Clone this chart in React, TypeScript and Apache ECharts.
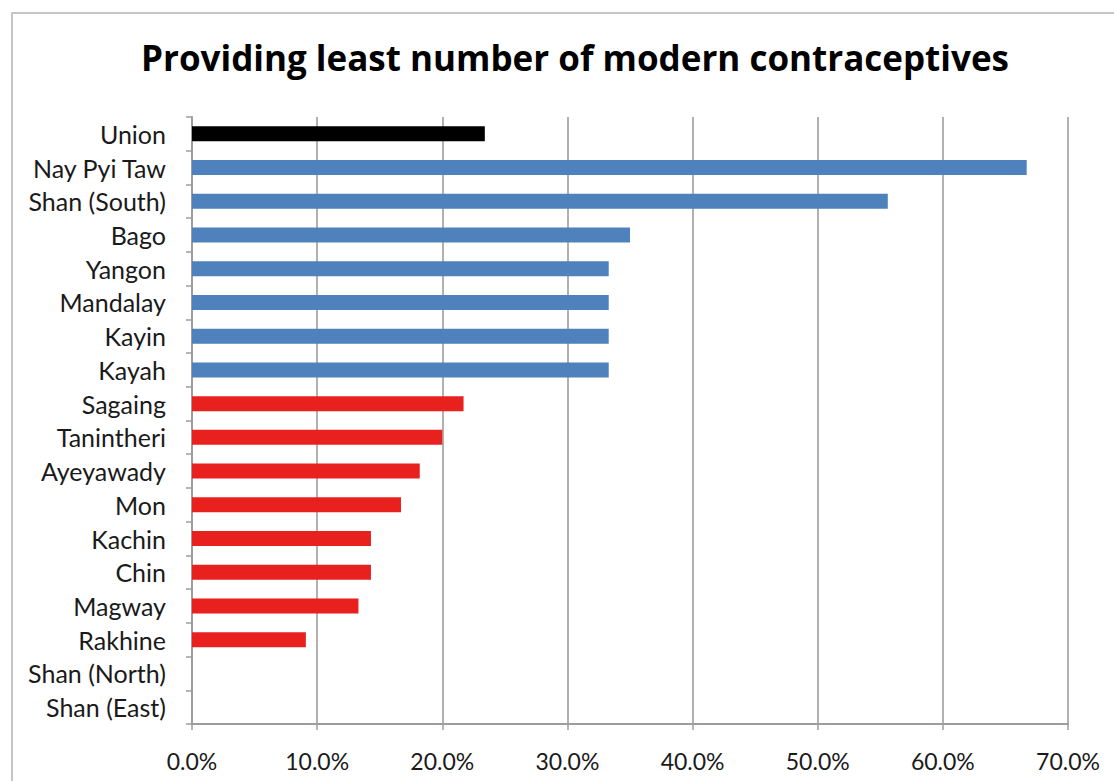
import React, { useEffect, useRef } from "react";
import * as echarts from "echarts";

// Regions, top to bottom
const categories = [
  "Union",
  "Nay Pyi Taw",
  "Shan (South)",
  "Bago",
  "Yangon",
  "Mandalay",
  "Kayin",
  "Kayah",
  "Sagaing",
  "Tanintheri",
  "Ayeyawady",
  "Mon",
  "Kachin",
  "Chin",
  "Magway",
  "Rakhine",
  "Shan (North)",
  "Shan (East)",
];

// Share (%) of facilities providing the least number of modern contraceptives
const values = [
  23.4, 66.7, 55.6, 35.0, 33.3, 33.3, 33.3, 33.3, 21.7, 20.0, 18.2, 16.7, 14.3,
  14.3, 13.3, 9.1, 0, 0,
];

// Group of each region: national figure, above or below the national level
const groups = [
  "national",
  "above",
  "above",
  "above",
  "above",
  "above",
  "above",
  "above",
  "below",
  "below",
  "below",
  "below",
  "below",
  "below",
  "below",
  "below",
  "below",
  "below",
];

const xTicks = { min: 0, max: 70, interval: 10 };

const groupColor: Record<string, string> = {
  national: "#000000",
  above: "#4f81bd",
  below: "#e8211f",
};

const FONT = "Lato, 'Open Sans', sans-serif";
const TITLE_FONT = "'Open Sans', Lato, sans-serif";

export default function App() {
  const ref = useRef<HTMLDivElement>(null);

  useEffect(() => {
    document.body.style.margin = "0";
    const chart = echarts.init(ref.current!, null, { renderer: "svg" });
    chart.setOption({
      animation: false,
      backgroundColor: "#ffffff",
      title: {
        text: "Providing least number of modern contraceptives",
        left: 570,
        textAlign: "center",
        top: 35,
        textStyle: {
          fontFamily: TITLE_FONT,
          fontWeight: "bold",
          fontSize: 35,
          color: "#000000",
        },
      },
      graphic: [
        {
          type: "rect",
          shape: { x: 12, y: 13, width: 1200, height: 900 },
          style: { fill: "none", stroke: "#c9c4c4", lineWidth: 2 },
          silent: true,
        },
      ],
      grid: { left: 192, top: 117, width: 876, height: 607, containLabel: false },
      xAxis: {
        type: "value",
        min: xTicks.min,
        max: xTicks.max,
        interval: xTicks.interval,
        axisLine: { show: true, lineStyle: { color: "#a09c9c", width: 2 } },
        axisTick: { show: true, length: 6, lineStyle: { color: "#a09c9c", width: 1.5 } },
        splitLine: { show: true, lineStyle: { color: "#9a9696", width: 1.5 } },
        axisLabel: {
          formatter: (v: number) => v.toFixed(1) + "%",
          fontFamily: FONT,
          fontSize: 23,
          color: "#1a1a1a",
          margin: 25,
        },
      },
      yAxis: {
        type: "category",
        data: categories,
        inverse: true,
        axisLine: { show: true, lineStyle: { color: "#a09c9c", width: 2 } },
        axisTick: { show: true, length: 6, lineStyle: { color: "#a09c9c", width: 1.5 } },
        axisLabel: {
          fontFamily: FONT,
          fontSize: 25,
          color: "#1a1a1a",
          margin: 26,
        },
      },
      series: [
        {
          type: "bar",
          barWidth: 15,
          data: values.map((v, i) => ({
            value: v,
            itemStyle: { color: groupColor[groups[i]] },
          })),
        },
      ],
    });
    return () => chart.dispose();
  }, []);

  return <div ref={ref} style={{ width: 1114, height: 781 }} />;
}
